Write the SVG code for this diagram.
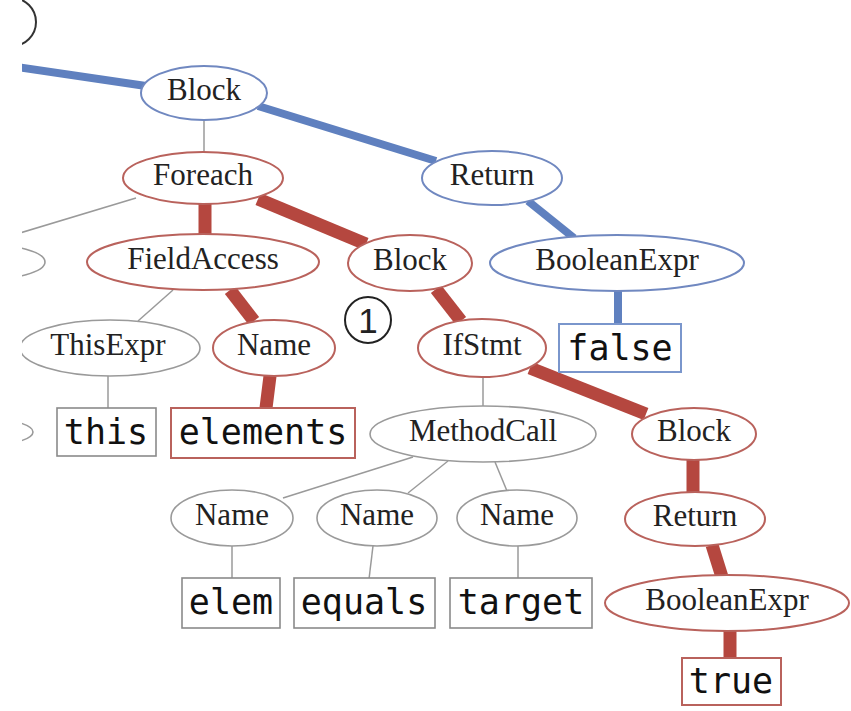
<svg xmlns="http://www.w3.org/2000/svg" width="851" height="711" viewBox="0 0 851 711">
  <defs>
    <clipPath id="page">
      <rect x="22" y="0" width="829" height="711"/>
    </clipPath>
    <style>
      .lbl { font-family: "Liberation Serif", "Times New Roman", serif; font-size: 31px; fill: #222; text-anchor: middle; }
      .tok { font-family: "DejaVu Sans Mono", monospace; font-size: 35px; fill: #111; text-anchor: middle; }
      .num { font-family: "Liberation Sans", Arial, sans-serif; font-size: 35px; fill: #222; text-anchor: middle; }
      .n-gray { fill: #fff; stroke: #9a9a9a; stroke-width: 1.6; }
      .n-red { fill: #fff; stroke: #b9625c; stroke-width: 2; }
      .n-blue { fill: #fff; stroke: #7088c0; stroke-width: 2; }
      .b-gray { fill: #fff; stroke: #8a8a8a; stroke-width: 1.6; }
      .b-red { fill: #fff; stroke: #b9625c; stroke-width: 2; }
      .b-blue { fill: #fff; stroke: #7a96cc; stroke-width: 2; }
      .e-thin { stroke: #9a9a9a; stroke-width: 1.5; fill: none; }
      .e-red { stroke: #b5473f; stroke-width: 13; fill: none; }
      .e-blue { stroke: #5f80bf; stroke-width: 8; fill: none; }
    </style>
  </defs>

  <rect width="851" height="711" fill="#fff"/>

  <g clip-path="url(#page)">
    <!-- connectors -->
    <g id="edges">
      <line class="e-blue" x1="10" y1="66" x2="146" y2="86"/>
      <line class="e-blue" x1="258" y1="106" x2="436" y2="161"/>
      <line class="e-blue" x1="528" y1="201" x2="574" y2="238"/>
      <line class="e-blue" x1="618" y1="290" x2="618" y2="324" stroke-width="7"/>

      <line class="e-thin" x1="204" y1="120" x2="204" y2="152"/>
      <line class="e-thin" x1="10" y1="236" x2="136" y2="198"/>
      <line class="e-red" x1="205" y1="204" x2="205" y2="235"/>
      <line class="e-red" x1="258" y1="199" x2="366" y2="244"/>

      <line class="e-thin" x1="173" y1="290" x2="138" y2="321"/>
      <line class="e-red" x1="230" y1="290" x2="254" y2="321"/>
      <line class="e-thin" x1="108" y1="376" x2="108" y2="408"/>
      <line class="e-red" x1="270" y1="376" x2="266" y2="408"/>

      <line class="e-red" x1="436" y1="289" x2="461" y2="321" stroke-width="12"/>
      <line class="e-thin" x1="483" y1="377" x2="483" y2="406"/>
      <line class="e-red" x1="530" y1="368" x2="646" y2="414"/>

      <line class="e-thin" x1="413" y1="457" x2="283" y2="498"/>
      <line class="e-thin" x1="448" y1="461" x2="408" y2="493"/>
      <line class="e-thin" x1="495" y1="462" x2="507" y2="491"/>
      <line class="e-thin" x1="232" y1="546" x2="232" y2="579"/>
      <line class="e-thin" x1="373" y1="546" x2="369" y2="579"/>
      <line class="e-thin" x1="518" y1="546" x2="518" y2="579"/>

      <line class="e-red" x1="693" y1="459" x2="693" y2="493"/>
      <line class="e-red" x1="712" y1="545" x2="722" y2="577"/>
      <line class="e-red" x1="730" y1="630" x2="730" y2="659"/>
    </g>

    <!-- partly visible shapes on the left edge -->
    <g id="edge-marker">
      <circle cx="12" cy="22" r="24" fill="#fff" stroke="#333" stroke-width="2"/>
    </g>
    <g id="edge-node-a">
      <ellipse class="n-gray" cx="-20" cy="262" rx="65" ry="18"/>
    </g>
    <g id="edge-node-b">
      <ellipse class="n-gray" cx="-30" cy="432" rx="63" ry="15"/>
    </g>

    <!-- nodes -->
    <g id="block-top">
      <ellipse class="n-blue" cx="204" cy="93" rx="63" ry="27"/>
      <text class="lbl" x="204" y="100">Block</text>
    </g>
    <g id="return-top">
      <ellipse class="n-blue" cx="492" cy="178" rx="70" ry="27"/>
      <text class="lbl" x="492" y="185">Return</text>
    </g>
    <g id="boolexpr-false">
      <ellipse class="n-blue" cx="617" cy="263" rx="127" ry="28"/>
      <text class="lbl" x="617" y="270">BooleanExpr</text>
    </g>
    <g id="tok-false">
      <rect class="b-blue" x="559" y="324" width="122" height="48"/>
      <text class="tok" x="620" y="360">false</text>
    </g>

    <g id="foreach">
      <ellipse class="n-red" cx="203" cy="178" rx="80" ry="26"/>
      <text class="lbl" x="203" y="185">Foreach</text>
    </g>
    <g id="fieldaccess">
      <ellipse class="n-red" cx="203" cy="262" rx="116" ry="28"/>
      <text class="lbl" x="203" y="269">FieldAccess</text>
    </g>
    <g id="block-mid">
      <ellipse class="n-red" cx="410" cy="263" rx="62" ry="28"/>
      <text class="lbl" x="410" y="270">Block</text>
    </g>
    <g id="thisexpr">
      <ellipse class="n-gray" cx="110" cy="348" rx="90" ry="28"/>
      <text class="lbl" x="108" y="355">ThisExpr</text>
    </g>
    <g id="name-elements">
      <ellipse class="n-red" cx="274" cy="348" rx="61" ry="28"/>
      <text class="lbl" x="274" y="355">Name</text>
    </g>
    <g id="tok-this">
      <rect class="b-gray" x="57" y="408" width="99" height="48"/>
      <text class="tok" x="106" y="444">this</text>
    </g>
    <g id="tok-elements">
      <rect class="b-red" x="171" y="408" width="184" height="50"/>
      <text class="tok" x="263" y="444">elements</text>
    </g>

    <g id="marker-1">
      <circle cx="368" cy="320" r="23" fill="#fff" stroke="#222" stroke-width="2"/>
      <text class="num" x="368" y="333">1</text>
    </g>

    <g id="ifstmt">
      <ellipse class="n-red" cx="482" cy="348" rx="64" ry="29"/>
      <text class="lbl" x="482" y="355">IfStmt</text>
    </g>
    <g id="methodcall">
      <ellipse class="n-gray" cx="483" cy="434" rx="113" ry="28"/>
      <text class="lbl" x="483" y="441">MethodCall</text>
    </g>
    <g id="name-elem">
      <ellipse class="n-gray" cx="232" cy="518" rx="61" ry="28"/>
      <text class="lbl" x="232" y="525">Name</text>
    </g>
    <g id="name-equals">
      <ellipse class="n-gray" cx="377" cy="518" rx="60" ry="28"/>
      <text class="lbl" x="377" y="525">Name</text>
    </g>
    <g id="name-target">
      <ellipse class="n-gray" cx="517" cy="518" rx="60" ry="28"/>
      <text class="lbl" x="517" y="525">Name</text>
    </g>
    <g id="tok-elem">
      <rect class="b-gray" x="182" y="578" width="98" height="50"/>
      <text class="tok" x="231" y="614">elem</text>
    </g>
    <g id="tok-equals">
      <rect class="b-gray" x="294" y="578" width="141" height="50"/>
      <text class="tok" x="364" y="614">equals</text>
    </g>
    <g id="tok-target">
      <rect class="b-gray" x="450" y="578" width="142" height="50"/>
      <text class="tok" x="521" y="614">target</text>
    </g>

    <g id="block-low">
      <ellipse class="n-red" cx="694" cy="434" rx="62" ry="26"/>
      <text class="lbl" x="694" y="441">Block</text>
    </g>
    <g id="return-low">
      <ellipse class="n-red" cx="695" cy="519" rx="70" ry="27"/>
      <text class="lbl" x="695" y="526">Return</text>
    </g>
    <g id="boolexpr-true">
      <ellipse class="n-red" cx="727" cy="603" rx="122" ry="28"/>
      <text class="lbl" x="727" y="610">BooleanExpr</text>
    </g>
    <g id="tok-true">
      <rect class="b-red" x="682" y="658" width="99" height="47"/>
      <text class="tok" x="731" y="693">true</text>
    </g>
  </g>
</svg>
